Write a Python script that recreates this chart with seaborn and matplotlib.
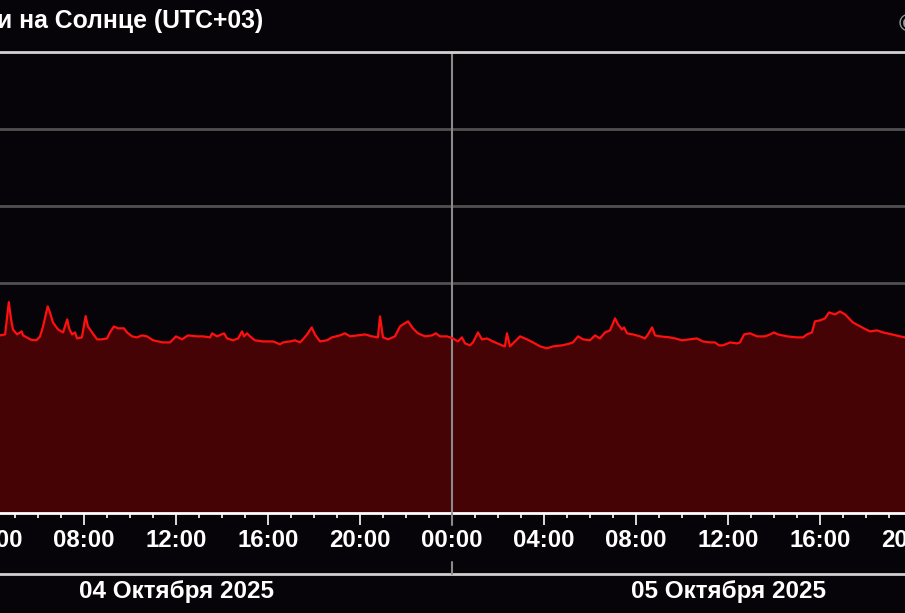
import matplotlib
matplotlib.use("Agg")
import matplotlib.pyplot as plt
import matplotlib.transforms as mtransforms
from matplotlib.ticker import MultipleLocator, FuncFormatter, LogLocator, NullFormatter
import seaborn as sns
import pandas as pd

# ---------------- data ----------------
TITLE = "и на Солнце (UTC+03)"
DAY_LABELS = ["04 Октября 2025", "05 Октября 2025"]
DAY_CENTERS_H = [12, 36]          # hours since 2025-10-04 00:00
DAY_BOUNDARY_H = 24

# hours since 2025-10-04 00:00 (UTC+03)
HOURS = [4.35, 4.57, 4.73, 4.83, 4.91, 5.09, 5.29, 5.35, 5.73, 5.94,
         6.09, 6.22, 6.42, 6.52, 6.65, 6.87, 7.09, 7.27, 7.35, 7.48,
         7.61, 7.70, 7.91, 8.07, 8.17, 8.35, 8.57, 8.78, 9.00, 9.13,
         9.30, 9.48, 9.74, 9.87, 10.09, 10.30, 10.52, 10.74, 11.00, 11.43,
         11.74, 11.87, 12.00, 12.26, 12.52, 12.91, 13.17, 13.48, 13.57, 13.78,
         14.09, 14.22, 14.48, 14.70, 14.87, 14.96, 15.09, 15.22, 15.43, 15.78,
         16.22, 16.52, 16.65, 16.96, 17.17, 17.39, 17.52, 17.70, 17.90, 18.04,
         18.26, 18.57, 18.78, 19.13, 19.35, 19.57, 19.91, 20.22, 20.52, 20.78,
         20.87, 21.00, 21.22, 21.52, 21.74, 21.87, 22.09, 22.30, 22.52, 22.83,
         23.13, 23.30, 23.48, 23.78, 24.04, 24.26, 24.43, 24.57, 24.78, 24.91,
         25.13, 25.30, 25.52, 25.78, 26.17, 26.30, 26.39, 26.52, 26.65, 26.96,
         27.26, 27.52, 27.83, 28.13, 28.39, 28.78, 29.00, 29.26, 29.48, 29.70,
         30.00, 30.22, 30.43, 30.65, 30.87, 31.09, 31.22, 31.39, 31.48, 31.61,
         31.87, 32.17, 32.39, 32.52, 32.70, 32.83, 33.04, 33.48, 33.70, 34.00,
         34.35, 34.65, 34.91, 35.22, 35.43, 35.61, 35.78, 36.09, 36.39, 36.52,
         36.70, 36.96, 37.26, 37.61, 37.83, 38.00, 38.17, 38.57, 39.00, 39.26,
         39.43, 39.65, 39.78, 40.00, 40.22, 40.39, 40.65, 40.87, 41.09, 41.43,
         41.83, 42.17, 42.48, 42.74, 43.13, 43.48, 43.70]

# X-ray flux in units of 1e-7 W/m^2
FLUX_E7 = [2.05, 2.11, 5.55, 3.31, 2.45, 2.11, 2.31, 2.05, 1.78, 1.78,
           1.99, 2.68, 4.88, 4.08, 3.02, 2.45, 2.24, 3.31, 2.53, 2.11,
           2.24, 1.87, 1.93, 3.65, 2.68, 2.24, 1.82, 1.82, 1.87, 2.24,
           2.68, 2.53, 2.53, 2.24, 1.99, 1.93, 2.05, 1.99, 1.77, 1.66,
           1.66, 1.82, 1.99, 1.82, 2.05, 1.99, 1.99, 1.93, 2.18, 1.99,
           2.18, 1.87, 1.77, 1.87, 2.31, 1.99, 2.18, 1.99, 1.77, 1.71,
           1.71, 1.57, 1.66, 1.71, 1.77, 1.66, 1.82, 2.11, 2.60, 2.11,
           1.71, 1.77, 1.93, 2.05, 2.18, 1.99, 2.05, 2.11, 1.99, 1.93,
           3.62, 1.93, 1.82, 1.99, 2.68, 2.85, 3.12, 2.53, 2.18, 1.99,
           2.05, 2.18, 1.99, 1.99, 1.87, 1.71, 1.93, 1.61, 1.52, 1.66,
           2.24, 1.82, 1.87, 1.71, 1.52, 1.475, 2.18, 1.475, 1.61, 1.99,
           1.82, 1.66, 1.475, 1.39, 1.475, 1.52, 1.57, 1.66, 1.99, 1.82,
           1.77, 2.05, 1.87, 2.24, 2.38, 3.41, 2.85, 2.45, 2.60, 2.18,
           2.11, 1.99, 1.87, 2.11, 2.60, 2.05, 1.99, 1.93, 1.87, 1.77,
           1.82, 1.87, 1.71, 1.66, 1.66, 1.52, 1.52, 1.66, 1.61, 1.66,
           2.11, 2.18, 1.99, 1.99, 2.11, 2.24, 2.11, 1.99, 1.93, 1.93,
           2.11, 2.24, 3.12, 3.21, 3.41, 4.08, 3.84, 4.20, 3.84, 3.02,
           2.60, 2.31, 2.38, 2.24, 2.11, 1.99, 1.93]

Y_MIN, Y_MAX = 1e-9, 1e-3

# ---------------- style ----------------
BG = "#060408"
FILL = "#450306"
LINE = "#ff1010"
GRID = "#505050"
TOP = "#d0d0d0"
MID = "#8a8a8a"

sns.set_theme(style="dark")
plt.rcParams["font.family"] = ["Liberation Sans", "DejaVu Sans"]
plt.rcParams["font.weight"] = "bold"

df = pd.DataFrame({"hours": HOURS, "flux": [v * 1e-7 for v in FLUX_E7]})

W, H = 905, 613
fig = plt.figure(figsize=(W / 100, H / 100), dpi=100, facecolor=BG)

# axes extends a bit beyond the figure (cropped view)
px_left, px_right, px_top, px_bottom = -30, 935, 52, 513
ax = fig.add_axes([px_left / W, (H - px_bottom) / H,
                   (px_right - px_left) / W, (px_bottom - px_top) / H])
ax.set_facecolor(BG)

ax.set_yscale("log")
ax.set_ylim(Y_MIN, Y_MAX)
ax.set_xlim((px_left + 100) / 23, (px_right + 100) / 23)

ax.fill_between(df["hours"], df["flux"], Y_MIN, color=FILL, linewidth=0, zorder=2)
ax.axvline(DAY_BOUNDARY_H, color=MID, linewidth=1.5, zorder=2.5)
sns.lineplot(data=df, x="hours", y="flux", ax=ax, color=LINE,
             linewidth=1.6, estimator=None, zorder=3)

# grid
ax.yaxis.set_major_locator(LogLocator(base=10, numticks=10))
ax.yaxis.set_minor_formatter(NullFormatter())
ax.yaxis.grid(True, which="major", color=GRID, linewidth=2)
ax.xaxis.grid(False)
ax.set_axisbelow(True)
ax.tick_params(axis="y", which="both", left=False, labelleft=False)
ax.set_xlabel("")
ax.set_ylabel("")

# x ticks
ax.xaxis.set_major_locator(MultipleLocator(4))
ax.xaxis.set_minor_locator(MultipleLocator(1))
ax.xaxis.set_major_formatter(FuncFormatter(lambda h, p: f"{int(round(h)) % 24:02d}:00"))
ax.tick_params(axis="x", which="major", bottom=True, length=8.6, width=1.2,
               color="white", direction="out", pad=3, labelsize=17.3,
               labelcolor="white")
ax.tick_params(axis="x", which="minor", bottom=True, length=3.6, width=1.2,
               color="white", direction="out")
for lab in ax.get_xticklabels():
    lab.set_fontweight("bold")

# spines
for s in ["left", "right"]:
    ax.spines[s].set_visible(False)
ax.spines["bottom"].set_color("white")
ax.spines["bottom"].set_linewidth(2)
ax.spines["top"].set_color(TOP)
ax.spines["top"].set_linewidth(2)

# extension of the midnight line and date axis
blend = mtransforms.blended_transform_factory(ax.transData, ax.transAxes)
axh = px_bottom - px_top
ax.plot([DAY_BOUNDARY_H, DAY_BOUNDARY_H], [0, -12 / axh], transform=blend,
        color=MID, linewidth=1.5, clip_on=False, zorder=4)
ax.plot([DAY_BOUNDARY_H, DAY_BOUNDARY_H], [-(562 - px_bottom) / axh, -(574 - px_bottom) / axh],
        transform=blend, color=MID, linewidth=1.5, clip_on=False, zorder=4)
ax.plot([0, 1], [-(574 - px_bottom) / axh] * 2, transform=ax.transAxes,
        color=TOP, linewidth=2, clip_on=False)
for c, lab in zip(DAY_CENTERS_H, DAY_LABELS):
    ax.text(c, -(598 - px_bottom) / axh, lab, transform=blend, ha="center",
            va="baseline", color="white", fontsize=17.5, fontweight="bold")

# title and copyright
fig.text(263 / W, (H - 28) / H, TITLE, ha="right", va="baseline", color="white",
         fontsize=17.8, fontweight="bold")
fig.text(899 / W, (H - 32) / H, "©", ha="left", va="baseline", color="#9a9a9a",
         fontsize=17, fontweight="bold")

fig.savefig("out.png", dpi=100, facecolor=BG)
